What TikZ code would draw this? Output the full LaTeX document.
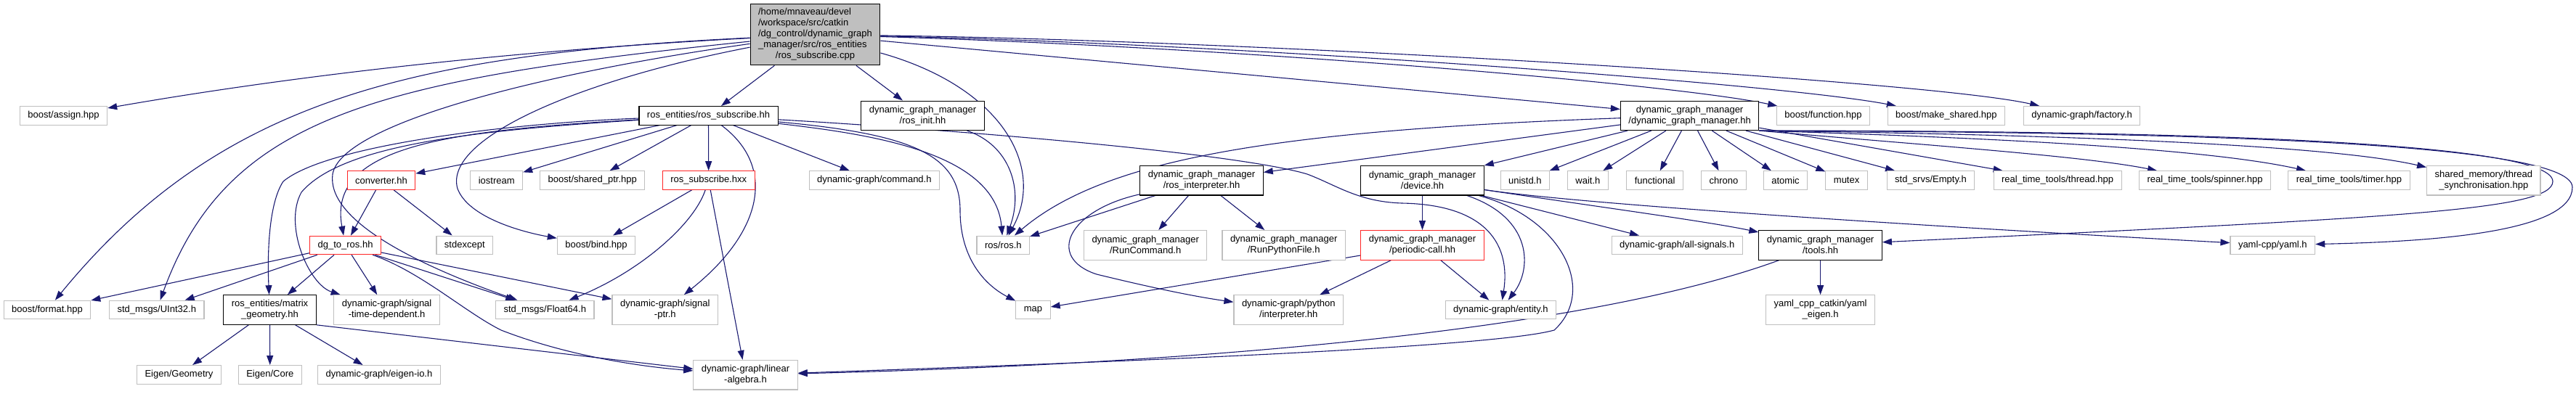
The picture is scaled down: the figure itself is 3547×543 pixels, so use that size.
\documentclass[tikz,border=0pt]{standalone}
\usepackage{fontspec}
\setmainfont{Liberation Sans}
\usetikzlibrary{arrows.meta,backgrounds}
\definecolor{midnight}{RGB}{25,25,112}
\tikzset{
  box/.style={draw,fill=white,line width=1.1pt,font=\fontsize{13}{15}\selectfont,
              align=center,inner xsep=11pt,inner ysep=0pt,minimum height=25.5pt},
  ext/.style={box,draw=black!25},
  loc/.style={box,draw=black},
  trc/.style={box,draw=red!85},
  two/.style={minimum height=40.5pt},
  root/.style={box,draw=black,fill=black!25,minimum height=84pt},
  ar/.style={-{Triangle[length=13pt,width=9pt]},line width=1.1pt,midnight},
}
\begin{document}
\begin{tikzpicture}[x=1pt,y=-1pt]
  \useasboundingbox (0,0) rectangle (3547,543);
  \node[root] (main) at (1122.5,47.8) {\begin{tabular}{@{}l@{}}/home/mnaveau/devel\\/workspace/src/catkin\\/dg\_control/dynamic\_graph\\\_manager/src/ros\_entities\\\multicolumn{1}{@{}c@{}}{/ros\_subscribe.cpp}\end{tabular}};
  \node[ext] (assign) at (87.5,159.5) {boost/assign.hpp};
  \node[loc] (rsub) at (975.5,159.3) {ros\_entities/ros\_subscribe.hh};
  \node[loc,two] (rinit) at (1270.5,159.3) {dynamic\_graph\_manager\\/ros\_init.hh};
  \node[loc,two] (dgm) at (2326.6,159.3) {dynamic\_graph\_manager\\/dynamic\_graph\_manager.hh};
  \node[ext] (bfunc) at (2510.4,159.3) {boost/function.hpp};
  \node[ext] (bmake) at (2679.9,159.3) {boost/make\_shared.hpp};
  \node[ext] (factory) at (2866.6,159.3) {dynamic-graph/factory.h};
  \node[trc] (conv) at (525,248.5) {converter.hh};
  \node[ext] (iostream) at (683.7,248.5) {iostream};
  \node[ext] (sptr) at (815.8,248.5) {boost/shared\_ptr.hpp};
  \node[trc] (hxx) at (975.7,248.5) {ros\_subscribe.hxx};
  \node[ext] (command) at (1203.8,248.5) {dynamic-graph/command.h};
  \node[loc,two] (rinterp) at (1654.5,248.7) {dynamic\_graph\_manager\\/ros\_interpreter.hh};
  \node[loc,two] (device) at (1958.5,248.7) {dynamic\_graph\_manager\\/device.hh};
  \node[ext] (unistd) at (2099.8,248.5) {unistd.h};
  \node[ext] (wait) at (2186.4,248.5) {wait.h};
  \node[ext] (functional) at (2278.6,248.5) {functional};
  \node[ext] (chrono) at (2373.5,248.5) {chrono};
  \node[ext] (atomic) at (2458.5,248.5) {atomic};
  \node[ext] (mutex) at (2542.6,248.5) {mutex};
  \node[ext] (empty) at (2658.5,248.5) {std\_srvs/Empty.h};
  \node[ext] (thread) at (2833.1,248.5) {real\_time\_tools/thread.hpp};
  \node[ext] (spinner) at (3036,248.5) {real\_time\_tools/spinner.hpp};
  \node[ext] (timer) at (3234.4,248.5) {real\_time\_tools/timer.hpp};
  \node[ext,two] (shmem) at (3419.8,248.7) {shared\_memory/thread\\\_synchronisation.hpp};
  \node[trc] (dgros) at (475.6,338) {dg\_to\_ros.hh};
  \node[ext] (stdexc) at (639.8,337.8) {stdexcept};
  \node[ext] (bind) at (821,337.8) {boost/bind.hpp};
  \node[ext] (rosh) at (1381.3,337.8) {ros/ros.h};
  \node[ext,two] (runcmd) at (1577.2,337.8) {dynamic\_graph\_manager\\/RunCommand.h};
  \node[ext,two] (runpy) at (1767.7,337.8) {dynamic\_graph\_manager\\/RunPythonFile.h};
  \node[trc,two] (pcall) at (1958.5,337.8) {dynamic\_graph\_manager\\/periodic-call.hh};
  \node[ext] (allsig) at (2309.2,337.8) {dynamic-graph/all-signals.h};
  \node[loc,two] (tools) at (2506.6,337.8) {dynamic\_graph\_manager\\/tools.hh};
  \node[ext] (yaml) at (3129.3,337.8) {yaml-cpp/yaml.h};
  \node[ext] (format) at (65,427) {boost/format.hpp};
  \node[ext] (uint) at (215.8,427) {std\_msgs/UInt32.h};
  \node[loc,two] (matgeo) at (371.5,427) {ros\_entities/matrix\\\_geometry.hh};
  \node[ext,two] (sigtd) at (532.6,427) {dynamic-graph/signal\\-time-dependent.h};
  \node[ext] (float) at (750.3,427) {std\_msgs/Float64.h};
  \node[ext,two] (sigptr) at (915.8,427) {dynamic-graph/signal\\-ptr.h};
  \node[ext] (map) at (1422.5,427) {map};
  \node[ext,two] (pyint) at (1774.3,427) {dynamic-graph/python\\/interpreter.hh};
  \node[ext] (entity) at (2066.4,427) {dynamic-graph/entity.h};
  \node[ext,two] (yeigen) at (2506.6,427) {yaml\_cpp\_catkin/yaml\\\_eigen.h};
  \node[ext] (egeom) at (246.5,516.3) {Eigen/Geometry};
  \node[ext] (ecore) at (371.8,516.3) {Eigen/Core};
  \node[ext] (eio) at (522,516.3) {dynamic-graph/eigen-io.h};
  \node[ext,two] (linalg) at (1026.5,516.7) {dynamic-graph/linear\\-algebra.h};
  \begin{scope}[on background layer]
  \foreach \a/\b in {main/rsub,main/rinit,main/dgm,rsub/conv,rsub/iostream,rsub/sptr,
                     rsub/hxx,rsub/command,dgm/rinterp,dgm/device,dgm/unistd,dgm/wait,
                     dgm/functional,dgm/chrono,dgm/atomic,dgm/mutex,dgm/empty,dgm/thread,
                     conv/dgros,conv/stdexc,hxx/bind,hxx/linalg,rinterp/rosh,rinterp/runcmd,
                     rinterp/runpy,device/pcall,device/allsig,pcall/map,pcall/pyint,
                     pcall/entity,dgros/format,dgros/uint,dgros/matgeo,dgros/sigtd,
                     dgros/float,dgros/sigptr,tools/yeigen,matgeo/egeom,matgeo/ecore,matgeo/eio}
     \draw[ar] (\a)--(\b);
  \draw[ar] (matgeo.south east)--(linalg);
  \draw[ar] (main) .. controls (700,70) and (400,105) .. (assign);
  \draw[ar] (main) .. controls (560,75) and (300,140) .. (format);
  \draw[ar] (main) .. controls (520,110) and (313,159) .. (uint);
  \draw[ar] (main) .. controls (750,100) and (470,170) .. (458,240) .. controls (450,300) and (560,360) .. (float);
  \draw[ar] (main) .. controls (800,110) and (610,190) .. (630,260) .. controls (645,300) and (720,320) .. (bind);
  \draw[ar] (main) .. controls (1380,120) and (1440,230) .. (rosh);
  \draw[ar] (main) .. controls (1700,55) and (2650,110) .. (factory);
  \draw[ar] (main) .. controls (1700,60) and (2450,115) .. (bmake);
  \draw[ar] (main) .. controls (1700,65) and (2300,115) .. (bfunc);
  \draw[ar] (rsub) .. controls (1070,230) and (1050,320) .. (sigptr);
  \draw[ar] (rsub) .. controls (1200,185) and (1370,210) .. (rosh);
  \draw[ar] (rsub) .. controls (1260,185) and (1322,215) .. (1322,290) .. controls (1322,360) and (1360,395) .. (map);
  \draw[ar] (rsub) .. controls (1300,178) and (1700,210) .. (1800,240) .. controls (1840,255) and (1870,278) .. (1930,280) .. controls (2050,282) and (2080,340) .. (entity);
  \draw[ar] (rsub) .. controls (700,170) and (450,200) .. (390,250) .. controls (370,280) and (368,350) .. (matgeo);
  \draw[ar] (rsub) .. controls (650,180) and (470,200) .. (415,265) .. controls (390,310) and (425,392) .. (sigtd);
  \draw[ar] (rsub) .. controls (620,180) and (450,200) .. (dgros);
  \draw[ar] (dgm) .. controls (1750,180) and (1520,220) .. (rosh);
  \draw[ar] (dgm.south east) .. controls (2650,200) and (2870,215) .. (spinner);
  \draw[ar] (dgm.south east) .. controls (2750,190) and (3040,205) .. (timer);
  \draw[ar] (dgm.south east) .. controls (2800,185) and (3200,198) .. (shmem);
  \draw[ar] (dgm.south east) .. controls (2900,182) and (3542,190) .. (3542,258) .. controls (3542,320) and (3350,333) .. (yaml);
  \draw[ar] (dgm.south east) .. controls (2900,180) and (3515,190) .. (3515,250) .. controls (3515,290) and (3300,300) .. (tools);
  \draw[ar] (rinit) .. controls (1390,200) and (1410,260) .. (rosh);
  \draw[ar] (rinterp) .. controls (1470,290) and (1440,355) .. (1510,378) .. controls (1580,395) and (1640,408) .. (pyint);
  \draw[ar] (device) .. controls (2110,300) and (2110,370) .. (entity);
  \draw[ar] (device) .. controls (2150,300) and (2200,400) .. (2140,455) .. controls (2050,480) and (1500,500) .. (linalg);
  \draw[ar] (device) .. controls (2200,285) and (2800,320) .. (yaml);
  \draw[ar] (device) .. controls (2200,285) and (2350,305) .. (tools);
  \draw[ar] (hxx) .. controls (955,310) and (880,375) .. (float);
  \draw[ar] (dgros) .. controls (580,375) and (640,430) .. (690,455) .. controls (780,490) and (880,505) .. (linalg);
  \draw[ar] (tools) .. controls (2200,450) and (1700,500) .. (linalg);
  \end{scope}
\end{tikzpicture}
\end{document}
